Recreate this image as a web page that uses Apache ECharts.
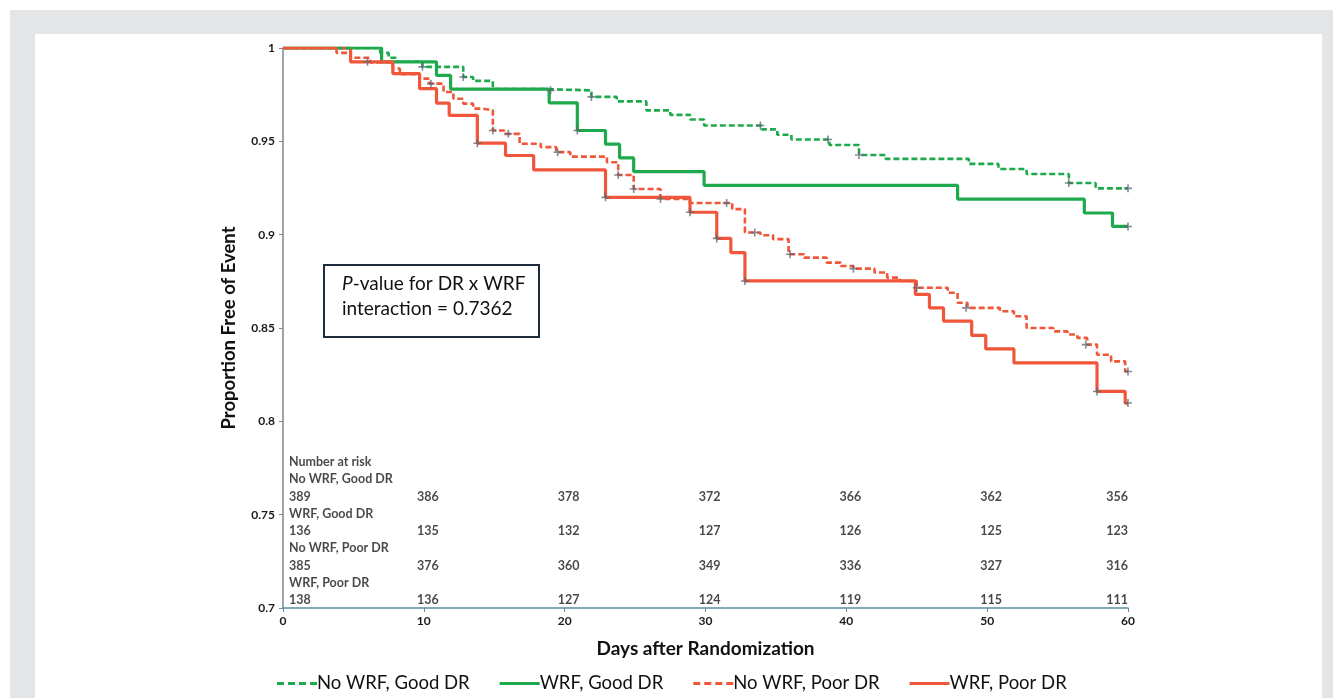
<!DOCTYPE html>
<html>
<head>
<meta charset="utf-8">
<script src="https://cdn.jsdelivr.net/npm/echarts@6/dist/echarts.min.js"></script>
<style>
html,body{margin:0;padding:0;background:#ffffff;width:1333px;height:698px;overflow:hidden;}
#outer{position:absolute;left:10px;top:10px;width:1323px;height:688px;background:#e4e5e7;}
#panel{position:absolute;left:35px;top:34px;width:1287px;height:664px;background:#ffffff;}
#chart{position:absolute;left:0;top:0;width:1333px;height:698px;}
</style>
</head>
<body>
<div id="outer"></div>
<div id="panel"></div>
<div id="chart"></div>
<script>
// ---- Data ----
const seriesNames = ['No WRF, Good DR', 'WRF, Good DR', 'No WRF, Poor DR', 'WRF, Poor DR'];

// Kaplan-Meier step curves: [day, proportion free of event]
const kmNoWrfGood = [[0,1],[6.9,0.9974],[7.5,0.9948],[8,0.9926],[9.9,0.9899],[12.8,0.9845],[13.5,0.9824],[14.9,0.978],[18.5,0.9773],[21.9,0.9738],[23.7,0.9714],[25.8,0.9666],[27.5,0.9642],[28.9,0.9617],[29.9,0.9585],[34,0.9564],[35.1,0.9535],[36.1,0.951],[38.8,0.948],[40.9,0.9427],[42.8,0.9406],[48.7,0.9379],[50.8,0.9352],[52.8,0.9325],[55.8,0.9277],[57.7,0.9248],[60,0.9248]];
const kmWrfGood = [[0,1],[7,0.9926],[10.9,0.9853],[11.9,0.978],[18.9,0.9706],[20.9,0.9558],[22.9,0.9485],[23.9,0.9411],[24.9,0.9338],[29.9,0.9264],[47.9,0.919],[56.9,0.9116],[58.9,0.9044],[60,0.9044]];
const kmNoWrfPoor = [[0,1],[3.8,0.9974],[4.8,0.9948],[6.2,0.9922],[7.8,0.989],[8.3,0.986],[9.7,0.9836],[10.4,0.9809],[11.4,0.9764],[12.1,0.9728],[12.8,0.9702],[13.5,0.9675],[14.2,0.9666],[14.9,0.9558],[15.7,0.954],[16.8,0.9487],[18.3,0.9469],[19.4,0.9442],[20.4,0.9418],[23,0.9388],[23.8,0.932],[24.9,0.9245],[26.8,0.9191],[28.9,0.917],[31.9,0.9137],[32.8,0.9012],[33.9,0.8997],[34.8,0.8976],[35.9,0.8895],[37,0.8877],[38.6,0.885],[39.6,0.8832],[40.5,0.8818],[42,0.8797],[42.9,0.877],[43.8,0.8752],[45,0.8716],[47.2,0.8689],[47.9,0.8635],[48.6,0.8608],[50.9,0.859],[51.9,0.8563],[52.8,0.85],[54.7,0.8482],[55.7,0.8465],[56.4,0.8447],[57.1,0.8411],[57.8,0.8357],[58.8,0.8321],[59.8,0.8267],[60,0.8267]];
const kmWrfPoor = [[0,1],[4.8,0.9926],[7.8,0.9863],[9.7,0.9782],[10.9,0.9705],[11.8,0.9639],[13.8,0.949],[15.8,0.9424],[17.8,0.9347],[22.9,0.92],[28.9,0.912],[30.8,0.898],[31.8,0.8904],[32.8,0.8752],[44.9,0.868],[45.9,0.8608],[46.9,0.8537],[48.9,0.846],[49.9,0.8388],[51.9,0.8313],[57.8,0.816],[59.8,0.8098],[60,0.8098]];

// Censoring marks (+)
const censorNoWrfGood = [[9.9,0.9899],[12.8,0.9845],[19,0.9773],[21.9,0.9738],[33.9,0.9585],[38.7,0.951],[40.9,0.9427],[55.8,0.9277],[60,0.9248]];
const censorWrfGood = [[20.9,0.9558],[60,0.9044]];
const censorNoWrfPoor = [[10.5,0.9809],[14.9,0.9558],[16,0.954],[19.5,0.9442],[23.8,0.932],[24.9,0.9245],[26.8,0.9191],[31.5,0.917],[33.5,0.9012],[36,0.8895],[40.5,0.8818],[45,0.8716],[48.5,0.8608],[57,0.8411],[60,0.8267]];
const censorWrfPoor = [[6,0.9926],[13.8,0.949],[22.9,0.92],[28.9,0.912],[30.8,0.898],[32.8,0.8752],[57.8,0.816],[60,0.8098]];

// Number at risk table
const riskTitle = 'Number at risk';
const riskDays = [0,10,20,30,40,50,60];
const riskNoWrfGood = [389,386,378,372,366,362,356];
const riskWrfGood = [136,135,132,127,126,125,123];
const riskNoWrfPoor = [385,376,360,349,336,327,316];
const riskWrfPoor = [138,136,127,124,119,115,111];

// Axis ticks
const xMin = 0, xMax = 60, xStep = 10;
const yMin = 0.7, yMax = 1, yStep = 0.05;

const annotationLine1 = 'P-value for DR x WRF';
const annotationLine2 = 'interaction = 0.7362';

// ---- Build chart ----
const GREEN = '#1ea94c';
const RED = '#f0573a';
const CENSOR = '#5b6672';
const FONT = 'Lato, "Open Sans", sans-serif';

const chart = echarts.init(document.getElementById('chart'), null, {renderer: 'canvas'});

const plusPath = 'path://M4,0h2v4h4v2h-4v4h-2v-4h-4v-2h4z';
const dashIcon = 'path://M0,0h7v3h-7z M11,0h7v3h-7z M22,0h7v3h-7z M33,0h7v3h-7z';
const solidIcon = 'path://M0,0h40v3h-40z';

// Risk table rows: header + 4 groups x (name row + number row)
const rowTop = 0.7782, rowStep = 0.00924;
const riskLabels = [];
function rowVal(i){ return rowTop - i*rowStep; }
riskLabels.push({value:[0,rowVal(0)], name:riskTitle, label:{align:'left', offset:[6,0]}});
const riskSets = [riskNoWrfGood, riskWrfGood, riskNoWrfPoor, riskWrfPoor];
riskSets.forEach((arr, g) => {
  riskLabels.push({value:[0,rowVal(1+2*g)], name:seriesNames[g], label:{align:'left', offset:[6,0]}});
  arr.forEach((n, k) => {
    const d = riskDays[k];
    let lab;
    if (k === 0) lab = {align:'left', offset:[6,0]};
    else if (k === arr.length-1) lab = {align:'right', offset:[0,0]};
    else lab = {align:'center', offset:[4,0]};
    riskLabels.push({value:[d,rowVal(2+2*g)], name:String(n), label:lab});
  });
});

function kmSeries(name, data, color, dashed, z){
  return {
    name: name, type:'line', step:'end', data:data, symbol:'none', z:z,
    lineStyle:{color:color, width: dashed ? 2.6 : 3.2, type: dashed ? [6,3] : 'solid'},
    itemStyle:{color:color}, silent:true, animation:false
  };
}
function censorSeries(name, data, z){
  return {
    name: name + ' censored', type:'scatter', data:data, symbol:plusPath, symbolSize:8, z:z,
    itemStyle:{color:CENSOR, opacity:0.75}, silent:true, animation:false
  };
}

const option = {
  animation:false,
  backgroundColor:'transparent',
  grid:{left:283, right:205, top:48, bottom:90, containLabel:false},
  xAxis:{
    type:'value', min:xMin, max:xMax, interval:xStep,
    name:'Days after Randomization', nameLocation:'middle', nameGap:31,
    nameTextStyle:{fontFamily:FONT, fontSize:19, fontWeight:'bold', color:'#111'},
    axisLine:{show:true, onZero:false, lineStyle:{color:'#5f8aa3', width:1.5}},
    axisTick:{show:true, length:4, lineStyle:{color:'#5f8aa3'}},
    axisLabel:{fontFamily:FONT, fontSize:12, fontWeight:'bold', color:'#1a1a1a', margin:7},
    splitLine:{show:false}
  },
  yAxis:{
    type:'value', min:yMin, max:yMax, interval:yStep,
    name:'Proportion Free of Event', nameLocation:'middle', nameGap:44,
    nameTextStyle:{fontFamily:FONT, fontSize:18.5, fontWeight:'bold', color:'#111'},
    axisLine:{show:true, lineStyle:{color:'#7d8890', width:1.5}},
    axisTick:{show:true, length:4, lineStyle:{color:'#7d8890'}},
    axisLabel:{fontFamily:FONT, fontSize:12, fontWeight:'bold', color:'#1a1a1a', margin:8,
      formatter: v => String(Math.round(v*100)/100)},
    splitLine:{show:false}
  },
  legend:{
    data: [
      {name:seriesNames[0], icon:dashIcon},
      {name:seriesNames[1], icon:solidIcon},
      {name:seriesNames[2], icon:dashIcon},
      {name:seriesNames[3], icon:solidIcon}
    ],
    left:277, top:674, padding:0, itemGap:30, itemWidth:40, itemHeight:3,
    textStyle:{fontFamily:FONT, fontSize:18.5, color:'#111', padding:[0,0,0,-5]},
    selectedMode:false
  },
  graphic:[
    {type:'rect', z:50, shape:{x:324, y:265, width:215, height:72},
     style:{fill:'#fff', stroke:'#1d2c3b', lineWidth:2}},
    {type:'text', z:51, left:342, top:274,
     style:{
       text:'{i|P}{n|' + annotationLine1.slice(1) + '}\n{n|' + annotationLine2 + '}',
       rich:{
         i:{fontFamily:FONT, fontSize:19, fontStyle:'italic', fill:'#111', lineHeight:25},
         n:{fontFamily:FONT, fontSize:19, fill:'#111', lineHeight:25}
       }
     }}
  ],
  series:[
    kmSeries(seriesNames[0], kmNoWrfGood, GREEN, true, 4),
    kmSeries(seriesNames[1], kmWrfGood, GREEN, false, 3),
    kmSeries(seriesNames[2], kmNoWrfPoor, RED, true, 4),
    kmSeries(seriesNames[3], kmWrfPoor, RED, false, 3),
    censorSeries(seriesNames[0], censorNoWrfGood, 6),
    censorSeries(seriesNames[1], censorWrfGood, 6),
    censorSeries(seriesNames[2], censorNoWrfPoor, 6),
    censorSeries(seriesNames[3], censorWrfPoor, 6),
    {
      name:'risk', type:'scatter', data:riskLabels, symbolSize:0, silent:true, z:10,
      label:{show:true, position:'inside', formatter: p => p.name,
        fontFamily:FONT, fontSize:12.5, fontWeight:'bold', color:'#1a1a1a'}
    }
  ]
};
chart.setOption(option);
</script>
</body>
</html>
